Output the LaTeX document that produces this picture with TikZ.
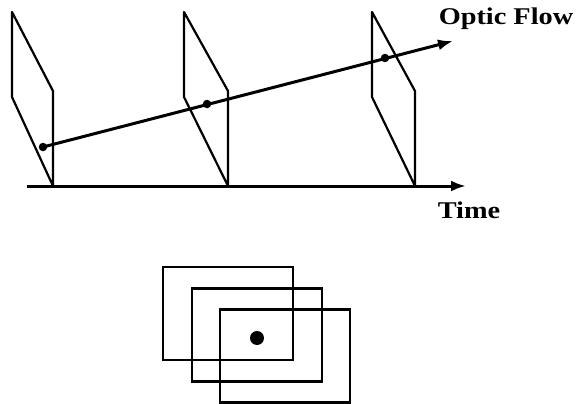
\documentclass[tikz,border=0pt]{standalone}
\usepackage{fontspec}
\setmainfont{Liberation Serif}
\usetikzlibrary{arrows.meta,positioning}

\begin{document}
\begin{tikzpicture}[
    x=1pt, y=-1pt,
    >={Latex[length=15pt,width=11pt]},
    plane/.style={line width=2.2pt, line join=round},
    flow/.style={line width=3pt},
    pt/.style={circle, fill, inner sep=0pt, minimum size=8.5pt},
    view/.style={draw, line width=2.4pt, minimum width=130pt,
                 minimum height=93pt, inner sep=0pt},
    lbl/.style={font=\bfseries\fontsize{24}{24}\selectfont,
                inner sep=0pt, xscale=1.18}
]
    \useasboundingbox (0,0) rectangle (576,404);

    % Image planes along the time axis
    \foreach \x/\w in {12/41, 184/44, 372/43}
        \draw[plane] (\x,12) -- (\x+\w,91) -- (\x+\w,186) -- (\x,97) -- cycle;

    % Time axis
    \coordinate (t0) at (27,186);
    \coordinate (t1) at (466,186);
    \draw[flow, ->] (t0) -- (t1);
    \node[lbl, anchor=base] (time) at (469,218) {Time};

    % Optic flow through the planes
    \node[pt] (p1) at (43,147) {};
    \node[pt] (p2) at (207,104) {};
    \node[pt] (p3) at (385,58) {};
    \coordinate (f1) at (453,41);
    \draw[flow, ->] (p1.center) -- (f1);
    \node[lbl, anchor=base] (flow) at (506,25) {Optic Flow};

    % Overlapping views
    \node[view] (v1) at (228,313.5) {};
    \node[view] (v2) at (257,335) {};
    \node[view] (v3) at (285,356) {};
    \node[circle, fill, minimum size=14pt, inner sep=0pt] (c) at (257,338) {};
\end{tikzpicture}
\end{document}
